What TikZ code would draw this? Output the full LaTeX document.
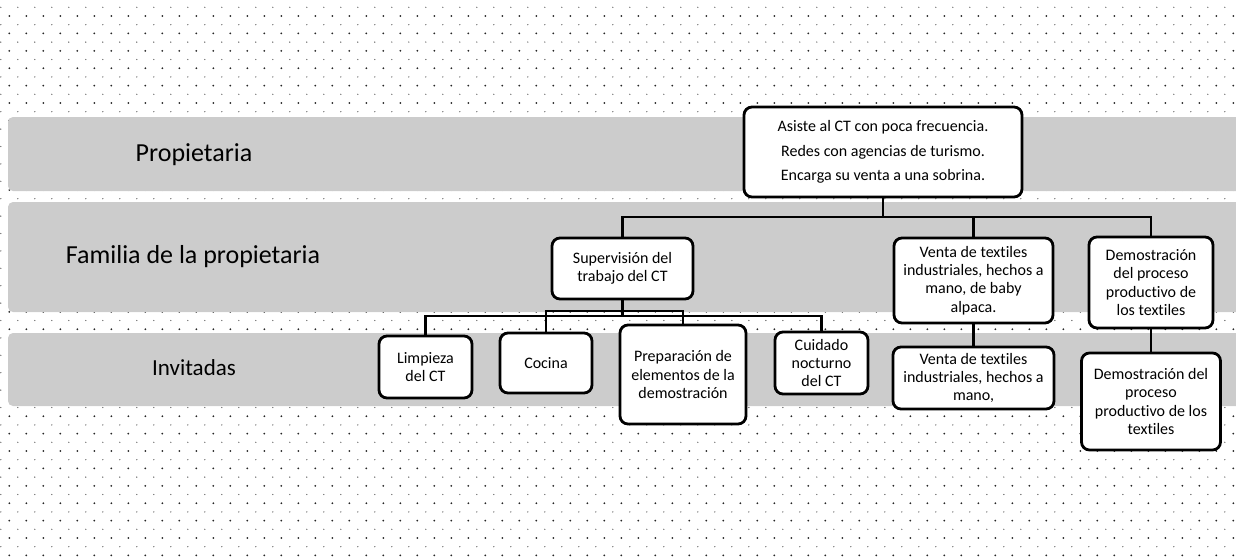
\documentclass[tikz,border=0pt]{standalone}
\usepackage{fontspec}
\setmainfont[Ligatures={NoCommon}]{Carlito}
\usepackage{tikz}
\usetikzlibrary{shapes.geometric,arrows}
\definecolor{bandgray}{RGB}{204,204,204}
\tikzstyle{band} = [fill=bandgray, rounded corners=5pt]
\tikzstyle{level} = [text centered, font=\fontsize{26}{30}\selectfont]
\tikzstyle{task} = [rectangle, rounded corners=8pt, text centered, align=center, draw=black, line width=2.8pt, fill=white, inner sep=0pt, font=\fontsize{16}{18.3}\selectfont]
\tikzstyle{link} = [line width=2.4pt, -]

\begin{document}
\begin{tikzpicture}[x=1pt,y=-1pt]
\useasboundingbox (0,0) rectangle (1236,558);

% dotted paper
\foreach \i in {0,...,72}
	\foreach \j in {0,...,31} {
		\fill [black!85] (9.3+17*\i, 16+17.4*\j) circle (1pt);
		\fill [black!60] (0.8+17*\i, 7.3+17.4*\j) circle (0.7pt);
	}
%
\fill [band] (8,117) rectangle (1250,191);
\fill [band] (8,202) rectangle (1250,312);
\fill [band] (8,333) rectangle (1250,406);
\node (propietaria) [level] at (194,155) {Propietaria};
\node (familia) [level] at (193,257) {Familia de la propietaria};
\node (invitadas) [level, font=\fontsize{23}{27}\selectfont] at (194,368) {Invitadas};
%
\node (root) [task, minimum width=278, minimum height=90, font=\fontsize{16}{24.5}\selectfont] at (883,152) {Asiste al CT con poca frecuencia.\\Redes con agencias de turismo.\\Encarga su venta a una sobrina.};
%
\node (sup) [task, minimum width=141, minimum height=61] at (622.5,268.5) {Supervisión del\\trabajo del CT};
	\node (limp) [task, minimum width=93, minimum height=62] at (425.5,367) {Limpieza\\del CT};
	\node (coc) [task, minimum width=92, minimum height=60] at (546,363) {Cocina};
	\node (prep) [task, minimum width=126, minimum height=99] at (683,374.5) {Preparación de\\elementos de la\\demostración};
	\node (cuid) [task, minimum width=93, minimum height=62] at (821.5,363) {Cuidado\\nocturno\\del CT};
%
\node (venta) [task, minimum width=159, minimum height=85] at (973.5,280.5) {Venta de textiles\\industriales, hechos a\\mano, de baby\\alpaca.};
	\node (venta2) [task, minimum width=161, minimum height=62] at (973.5,378) {Venta de textiles\\industriales, hechos a\\mano,};
%
\node (demo) [task, minimum width=124, minimum height=91] at (1151,282.5) {Demostración\\del proceso\\productivo de\\los textiles};
	\node (demo2) [task, minimum width=139, minimum height=97] at (1151,401.5) {Demostración del\\proceso\\productivo de los\\textiles};
%
\coordinate (topbus) at (883,217);
\coordinate (supbus) at (622.5,316);
\coordinate (prepbus) at (546,311);
%
\draw [link] (root.south) -- (topbus);
	\draw [link] (topbus) -| (sup.north);
	\draw [link] (topbus) -| (venta.north);
	\draw [link] (topbus) -| (demo.north);
\draw [link] (sup.south) -- (supbus);
	\draw [link] (supbus) -| (limp.north);
	\draw [link] (supbus) -| (coc.north);
	\draw [link] (supbus) -| (cuid.north);
	\draw [link] (coc.north) -- (prepbus) -| (prep.north);
\draw [link] (venta.south) -- (venta2.north);
\draw [link] (demo.south) -- (demo2.north);
\end{tikzpicture}
\end{document}
